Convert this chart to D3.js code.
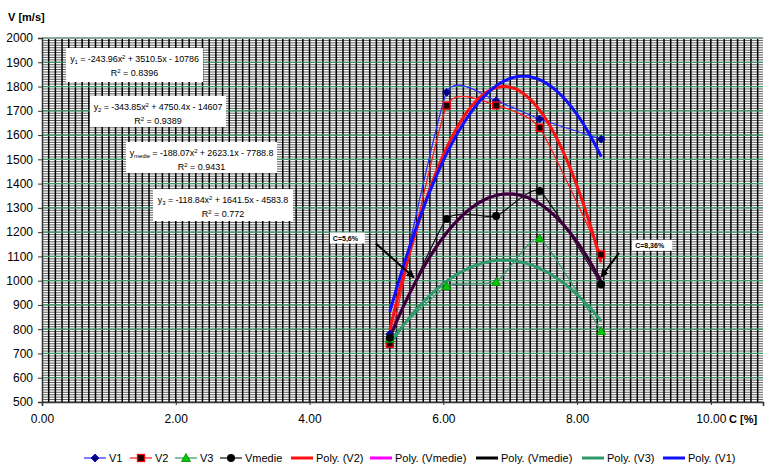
<!DOCTYPE html>
<html>
<head>
<meta charset="utf-8">
<script src="https://cdn.jsdelivr.net/npm/d3@7"></script>
<style>
  body { margin: 0; background: #fff; }
  text { font-family: "Liberation Sans", Arial, sans-serif; }
</style>
</head>
<body>
<script>
"use strict";

// data
var concX = [5.2, 6.05, 6.79, 7.44, 8.36];
var v1 = [780, 1776, 1741, 1666, 1583];
var v2 = [740, 1721, 1722, 1630, 1108];
var v3 = [760, 977, 994, 1174, 792];
var vmedie = [765, 1254, 1266, 1370, 984];

// trendline coefficients (a x^2 + b x + c) and R^2 as printed on the chart
var coefV1 = [-243.96, 3510.5, -10786];
var coefV2 = [-343.85, 4750.4, -14607];
var coefVmedie = [-188.07, 2623.1, -7788.8];
var coefV3 = [-118.84, 1641.5, -4583.8];
var r2 = ["0.8396", "0.9389", "0.9431", "0.772"];

var xTicks = [0, 2, 4, 6, 8, 10];
var yTicks = [500, 600, 700, 800, 900, 1000, 1100, 1200, 1300, 1400, 1500, 1600, 1700, 1800, 1900, 2000];

var legendNames = ["V1", "V2", "V3", "Vmedie", "Poly. (V2)", "Poly. (Vmedie)", "Poly. (Vmedie)", "Poly. (V3)", "Poly. (V1)"];

var width = 768, height = 466;

var svg = d3.select("body").append("svg")
    .attr("width", width)
    .attr("height", height);

var x = d3.scaleLinear().domain([0, 10.78]).range([42, 763]);
var y = d3.scaleLinear().domain([500, 2000]).range([402, 38]);

// grid
var grid = svg.append("g");
grid.selectAll(".hmin")
    .data(d3.range(500, 2001, 10))
  .enter().append("line")
    .attr("x1", x(0)).attr("x2", x.range()[1])
    .attr("y1", d => y(d)).attr("y2", d => y(d))
    .attr("stroke", "#333")
    .attr("stroke-width", 0.8);
grid.selectAll(".vmin")
    .data(d3.range(1, 108).map(d => d / 10))
  .enter().append("line")
    .attr("x1", d => x(d)).attr("x2", d => x(d))
    .attr("y1", y(2000)).attr("y2", y(500))
    .attr("stroke", "#000")
    .attr("stroke-width", 1.5);
grid.selectAll(".hmaj")
    .data(yTicks.slice(1))
  .enter().append("line")
    .attr("x1", x(0)).attr("x2", x.range()[1])
    .attr("y1", d => y(d)).attr("y2", d => y(d))
    .attr("stroke", d => d == 2000 ? "#8aa898" : "#3a9a6a")
    .attr("stroke-width", d => d == 2000 ? 2 : 1.2);

// axes
var yAxis = svg.append("g")
    .attr("transform", "translate(" + x(0) + ",0)")
    .call(d3.axisLeft(y).tickValues(yTicks).tickFormat(d3.format("d")).tickSize(4).tickPadding(5));
var xAxis = svg.append("g")
    .attr("transform", "translate(0," + y(500) + ")")
    .call(d3.axisBottom(x).tickValues(xTicks).tickFormat(d3.format(".2f")).tickSize(4).tickPadding(8));
[xAxis, yAxis].forEach(function(a) {
    a.select(".domain").attr("stroke", "#333").attr("stroke-width", 1.5);
    a.selectAll(".tick line").attr("stroke", "#333");
    a.selectAll("text").style("font-family", "'Liberation Sans', Arial, sans-serif").style("font-size", "12px").attr("fill", "#000");
});
xAxis.selectAll(".tick line").attr("y1", -3).attr("y2", 3);

svg.append("text").attr("x", 8).attr("y", 21).text("V [m/s]")
    .style("font-size", "11px").style("font-weight", "bold");
svg.append("text").attr("x", 729).attr("y", 423).text("C [%]")
    .style("font-size", "11px").style("font-weight", "bold");

// equation boxes
var eqs = [
    {sub: "1", coef: coefV1, r: r2[0], box: [66, 48, 137, 34]},
    {sub: "2", coef: coefV2, r: r2[1], box: [90, 96, 136, 31]},
    {sub: "medie", coef: coefVmedie, r: r2[2], box: [126, 142, 151, 31]},
    {sub: "3", coef: coefV3, r: r2[3], box: [153, 189, 140, 32]}
];
function fmt(v) { return String(Math.abs(v)); }
eqs.forEach(function(e) {
    var b = e.box;
    svg.append("rect").attr("x", b[0]).attr("y", b[1]).attr("width", b[2]).attr("height", b[3]).attr("fill", "#fff");
    var t = svg.append("text").attr("x", b[0] + b[2] / 2).attr("y", b[1] + 14)
        .attr("text-anchor", "middle").style("font-size", "9px").style("letter-spacing", "-0.1px");
    t.append("tspan").text("y");
    t.append("tspan").text(e.sub).attr("baseline-shift", "-25%").style("font-size", "6px");
    t.append("tspan").text(" = -" + fmt(e.coef[0]) + "x");
    t.append("tspan").text("2").attr("baseline-shift", "super").style("font-size", "6px");
    t.append("tspan").text(" + " + fmt(e.coef[1]) + "x - " + fmt(e.coef[2]));
    var t2 = svg.append("text").attr("x", b[0] + b[2] / 2).attr("y", b[1] + 28)
        .attr("text-anchor", "middle").style("font-size", "9px");
    t2.append("tspan").text("R");
    t2.append("tspan").text("2").attr("baseline-shift", "super").style("font-size", "6px");
    t2.append("tspan").text(" = " + e.r);
});

// trendlines
function polyPts(c) {
    var pts = [];
    var x0 = concX[0], x1 = concX[concX.length - 1];
    for (var i = 0; i <= 120; i++) {
        var xv = x0 + (x1 - x0) * i / 120;
        pts.push([xv, c[0] * xv * xv + c[1] * xv + c[2]]);
    }
    return pts;
}
var line = d3.line().x(d => x(d[0])).y(d => y(d[1]));
var smooth = d3.line().x(d => x(d[0])).y(d => y(d[1])).curve(d3.curveCardinal.tension(0.5));

function zip(vals) { return concX.map((c, i) => [c, vals[i]]); }

// series thin smoothed lines
var series = [
    {vals: v1, color: "#2a2aff", marker: "diamond"},
    {vals: v2, color: "#ff1a1a", marker: "square"},
    {vals: v3, color: "#2e9a6a", marker: "triangle"},
    {vals: vmedie, color: "#111", marker: "circle"}
];
series.forEach(function(s) {
    svg.append("path").attr("d", smooth(zip(s.vals)))
        .attr("fill", "none").attr("stroke", s.color).attr("stroke-width", 1.2);
});

var trends = [
    {c: coefV2, color: "#ff1010", w: 3},
    {c: coefVmedie, color: "#ff00ff", w: 3},
    {c: coefVmedie, color: "rgba(0,0,0,0.8)", w: 3},
    {c: coefV3, color: "#2e9a6a", w: 3},
    {c: coefV1, color: "#1010ff", w: 3}
];
trends.forEach(function(t) {
    svg.append("path").attr("d", line(polyPts(t.c)))
        .attr("fill", "none").attr("stroke", t.color).attr("stroke-width", t.w);
});

// markers
function drawMarker(g, type, cx, cy) {
    if (type == "diamond") {
        g.append("path").attr("d", "M" + cx + "," + (cy - 4) + "L" + (cx + 4) + "," + cy + "L" + cx + "," + (cy + 4) + "L" + (cx - 4) + "," + cy + "Z")
            .attr("fill", "#000080").attr("stroke", "#0000cc").attr("stroke-width", 0.8);
    } else if (type == "square") {
        g.append("rect").attr("x", cx - 3.5).attr("y", cy - 3.5).attr("width", 7).attr("height", 7)
            .attr("fill", "#1a0000").attr("stroke", "#ff0000").attr("stroke-width", 1.3);
    } else if (type == "triangle") {
        g.append("path").attr("d", "M" + cx + "," + (cy - 4.5) + "L" + (cx + 4.5) + "," + (cy + 3.5) + "L" + (cx - 4.5) + "," + (cy + 3.5) + "Z")
            .attr("fill", "#00cc00").attr("stroke", "#008000").attr("stroke-width", 0.8);
    } else {
        g.append("circle").attr("cx", cx).attr("cy", cy).attr("r", 4).attr("fill", "#000");
    }
}
var mg = svg.append("g");
series.forEach(function(s) {
    s.vals.forEach(function(v, i) { drawMarker(mg, s.marker, x(concX[i]), y(v)); });
});

// annotations
svg.append("defs").append("marker")
    .attr("id", "arr").attr("viewBox", "0 0 10 10").attr("refX", 9).attr("refY", 5)
    .attr("markerWidth", 4).attr("markerHeight", 4).attr("orient", "auto")
  .append("path").attr("d", "M0,0L10,5L0,10Z").attr("fill", "#000");

var notes = [
    {label: "C=5,6%", tx: 5.56, tv: 1013, bx: -84, by: -45, fx: -38, fy: -34},
    {label: "C=8,36%", tx: 8.36, tv: 1016, bx: 31, by: -37, fx: 18, fy: -24}
];
notes.forEach(function(n) {
    var px = x(n.tx), py = y(n.tv);
    svg.append("rect").attr("x", px + n.bx).attr("y", py + n.by).attr("width", n.label.length * 5 + 5).attr("height", 11).attr("fill", "#fff");
    svg.append("text").attr("x", px + n.bx + 3).attr("y", py + n.by + 8.5).text(n.label)
        .style("font-size", "7px").style("font-weight", "bold");
    svg.append("line").attr("x1", px + n.fx).attr("y1", py + n.fy).attr("x2", px).attr("y2", py)
        .attr("stroke", "#000").attr("stroke-width", 2).attr("marker-end", "url(#arr)");
});

// legend
var legX = [84, 130, 175, 220, 291, 370, 476, 582, 663];
var legStyles = [
    {color: "#2a2aff", marker: "diamond", w: 1.2},
    {color: "#ff1a1a", marker: "square", w: 1.2},
    {color: "#2e9a6a", marker: "triangle", w: 1.2},
    {color: "#111", marker: "circle", w: 1.2},
    {color: "#ff1010", w: 3},
    {color: "#ff00ff", w: 3},
    {color: "#000", w: 3},
    {color: "#2e9a6a", w: 3},
    {color: "#1010ff", w: 3}
];
var lg = svg.append("g");
legendNames.forEach(function(name, i) {
    var lx = legX[i], ly = 458, st = legStyles[i];
    lg.append("line").attr("x1", lx).attr("x2", lx + 22).attr("y1", ly).attr("y2", ly)
        .attr("stroke", st.color).attr("stroke-width", st.w);
    if (st.marker) drawMarker(lg, st.marker, lx + 11, ly);
    lg.append("text").attr("x", lx + 25).attr("y", ly + 4).text(name).style("font-size", "11px");
});
</script>
</body>
</html>
